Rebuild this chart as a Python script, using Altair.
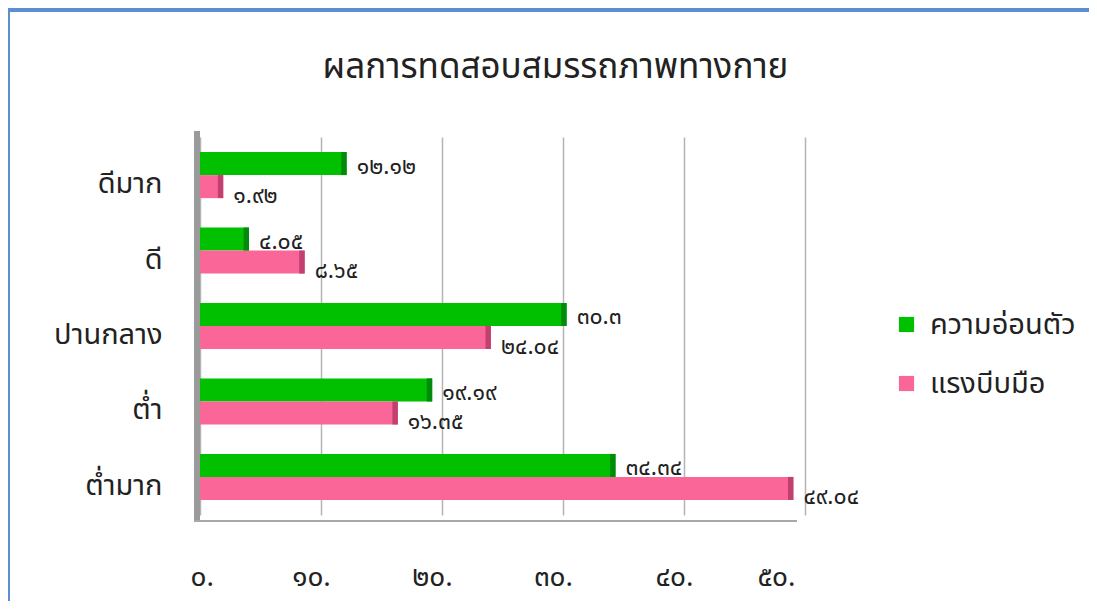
import altair as alt
import pandas as pd

categories = ["ดีมาก", "ดี", "ปานกลาง", "ต่ำ", "ต่ำมาก"]
series_names = ["ความอ่อนตัว", "แรงบีบมือ"]
flex_values = [12.12, 4.05, 30.3, 19.19, 34.34]
grip_values = [1.92, 8.65, 24.04, 16.35, 49.04]
tick_values = [0, 10, 20, 30, 40, 50]
tick_labels = ["๐.", "๑๐.", "๒๐.", "๓๐.", "๔๐.", "๕๐."]
colors = ["#00c000", "#fb6699"]
edge_colors = ["#008c0a", "#c2406f"]
title_text = "ผลการทดสอบสมรรถภาพทางกาย"

FONT = "Noto Sans Thai, Noto Sans, Tahoma, sans-serif"
W, H = 605, 378

THAI = str.maketrans("0123456789", "๐๑๒๓๔๕๖๗๘๙")
rows = []
for s, vals in zip(series_names, [flex_values, grip_values]):
    for c, v in zip(categories, vals):
        rows.append({"cat": c, "series": s, "value": v,
                     "label": f"{v:g}".translate(THAI)})
df = pd.DataFrame(rows)

label_expr = "[" + ",".join(f"'{t}'" for t in tick_labels) + "][indexof([" + \
    ",".join(str(t) for t in tick_values) + "], datum.value)]"

yenc = alt.Y("cat:N", sort=categories, title=None,
             scale=alt.Scale(paddingInner=0.39, paddingOuter=0.2),
             axis=alt.Axis(labelFontSize=29, labelPadding=38,
                           ticks=False, domain=False, labelColor="#222",
                           labelFont=FONT, labelOffset=9))
yoff = alt.YOffset("series:N", sort=series_names)
xenc = alt.X("value:Q", title=None, scale=alt.Scale(domain=[0, 50], nice=False),
             axis=alt.Axis(values=tick_values, labelExpr=label_expr,
                           grid=True, gridColor="#b4b4b4", gridWidth=1.5,
                           labelPadding=48, labelOffset=-10, ticks=False,
                           domain=False, labelFontSize=28, labelColor="#222",
                           labelFont=FONT))

base = alt.Chart(df)

bars = base.mark_bar(strokeWidth=0.8).encode(
    y=yenc, yOffset=yoff, x=xenc,
    color=alt.Color("series:N", sort=series_names,
                    scale=alt.Scale(domain=series_names, range=colors),
                    legend=alt.Legend(title=None, orient="none", legendX=692,
                                      legendY=173, symbolType="square",
                                      symbolSize=230, symbolStrokeWidth=0,
                                      labelFontSize=29, labelFont=FONT,
                                      labelColor="#222", rowPadding=29,
                                      labelOffset=9)),
)

caps = base.transform_calculate(start="datum.value - 0.45").mark_bar().encode(
    y=alt.Y("cat:N", sort=categories, title=None),
    yOffset=yoff,
    x=alt.X("start:Q", title=None),
    x2="value:Q",
    color=alt.Color("series:N", sort=series_names,
                    scale=alt.Scale(domain=series_names, range=edge_colors),
                    legend=None),
)


def label_layer(series, dy):
    return base.transform_filter(alt.datum.series == series).mark_text(
        align="left", baseline="middle", dx=10, dy=dy,
        fontSize=23, color="#222", font=FONT).encode(
        y=alt.Y("cat:N", sort=categories, title=None),
        yOffset=yoff,
        x=alt.X("value:Q", title=None),
        text="label:N",
    )


texts_green = label_layer(series_names[0], 3)
texts_pink = label_layer(series_names[1], 9)

one = alt.Chart(pd.DataFrame({"a": [0]}))
wall = one.mark_rule(color="#9a9a9a", strokeWidth=6).encode(
    x=alt.value(-3), y=alt.value(-6), y2=alt.value(H + 6))
floor = one.mark_rule(color="#a8a8a8", strokeWidth=2).encode(
    x=alt.value(-6), x2=alt.value(W - 8), y=alt.value(H + 6))
frame_top = one.mark_rule(color="#5b8fd2", strokeWidth=4).encode(
    x=alt.value(-194), x2=alt.value(900), y=alt.value(-127))
frame_left = one.mark_rule(color="#5b8fd2", strokeWidth=4).encode(
    x=alt.value(-192), y=alt.value(-129), y2=alt.value(480))

chart = alt.layer(bars, caps, texts_green, texts_pink, wall, floor,
                  frame_top, frame_left).resolve_scale(
    color="independent"
).properties(
    width=W, height=H,
    title=alt.Title(title_text, fontSize=35, fontWeight="normal", anchor="middle",
                    dx=53, offset=-79, color="#222", font=FONT),
    autosize=alt.AutoSizeParams(type="none"),
    padding={"left": 192, "top": 129, "right": 284, "bottom": 86},
    background="white",
).configure_view(stroke=None)

chart.save("out.html", embed_options={"renderer": "svg", "actions": False})
